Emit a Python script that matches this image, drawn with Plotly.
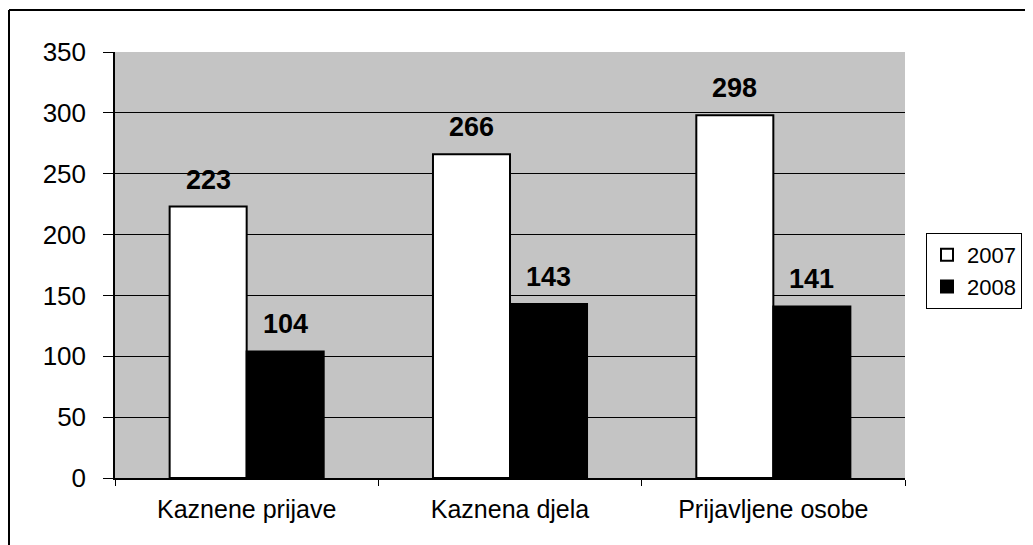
import plotly.graph_objects as go

categories = ["Kaznene prijave", "Kaznena djela", "Prijavljene osobe"]
series_names = ["2007", "2008"]
values_2007 = [223, 266, 298]
values_2008 = [104, 143, 141]
y_ticks = [0, 50, 100, 150, 200, 250, 300, 350]

W, H = 1033, 545
# page is offset by 8px body margin
L, R, T, B = 107, 136, 44, 75
FONT = "Liberation Sans, Arial"
BARGAP = 0.415

fig = go.Figure()
fig.add_trace(go.Bar(name=series_names[0], x=categories, y=values_2007,
                     marker=dict(color="white", line=dict(color="black", width=2))))
fig.add_trace(go.Bar(name=series_names[1], x=categories, y=values_2008,
                     marker=dict(color="black", line=dict(color="black", width=2))))

# data labels centred over each bar
half = (1 - BARGAP) / 4
for i, (v1, v2) in enumerate(zip(values_2007, values_2008)):
    for off, v in ((-half, v1), (half, v2)):
        fig.add_annotation(x=i + off, y=v, xref="x", yref="y", text=f"<b>{v}</b>",
                           showarrow=False, yshift=27,
                           font=dict(family=FONT, size=27, color="black"))

# outer frame
pw = W - L - R
ph = H - T - B
def px(x):
    return (x - L) / pw
def py(y):
    return (H - B - y) / ph
fig.add_shape(type="line", xref="paper", yref="paper", x0=px(1), x1=px(1), y0=py(2), y1=py(545),
              line=dict(color="black", width=2))
fig.add_shape(type="line", xref="paper", yref="paper", x0=px(1), x1=px(1033), y0=py(2), y1=py(2),
              line=dict(color="black", width=2))

fig.update_layout(
    width=W, height=H,
    margin=dict(l=L, r=R, t=T, b=B, autoexpand=False),
    paper_bgcolor="white",
    plot_bgcolor="#c4c4c4",
    barmode="group",
    bargap=BARGAP,
    bargroupgap=0,
    font=dict(family=FONT, size=24, color="black"),
    legend=dict(x=px(918), y=py(263), xanchor="left", yanchor="middle",
                bordercolor="black", borderwidth=1, bgcolor="white",
                font=dict(size=22), tracegroupgap=2, itemwidth=30),
    showlegend=True,
)
fig.update_xaxes(showline=True, linecolor="black", linewidth=1.5, ticks="outside",
                 tickcolor="black", ticklen=6, tickson="boundaries",
                 range=[-0.5, 2.5], tickfont=dict(size=25), ticklabelstandoff=8)
fig.update_yaxes(range=[0, 350], tickvals=y_ticks, showgrid=True, gridcolor="black", gridwidth=1,
                 showline=True, linecolor="black", linewidth=1.5, ticks="outside",
                 tickcolor="black", ticklen=10, ticklabelstandoff=12, tickfont=dict(size=26),
                 zeroline=False)

fig.write_html("out.html")
